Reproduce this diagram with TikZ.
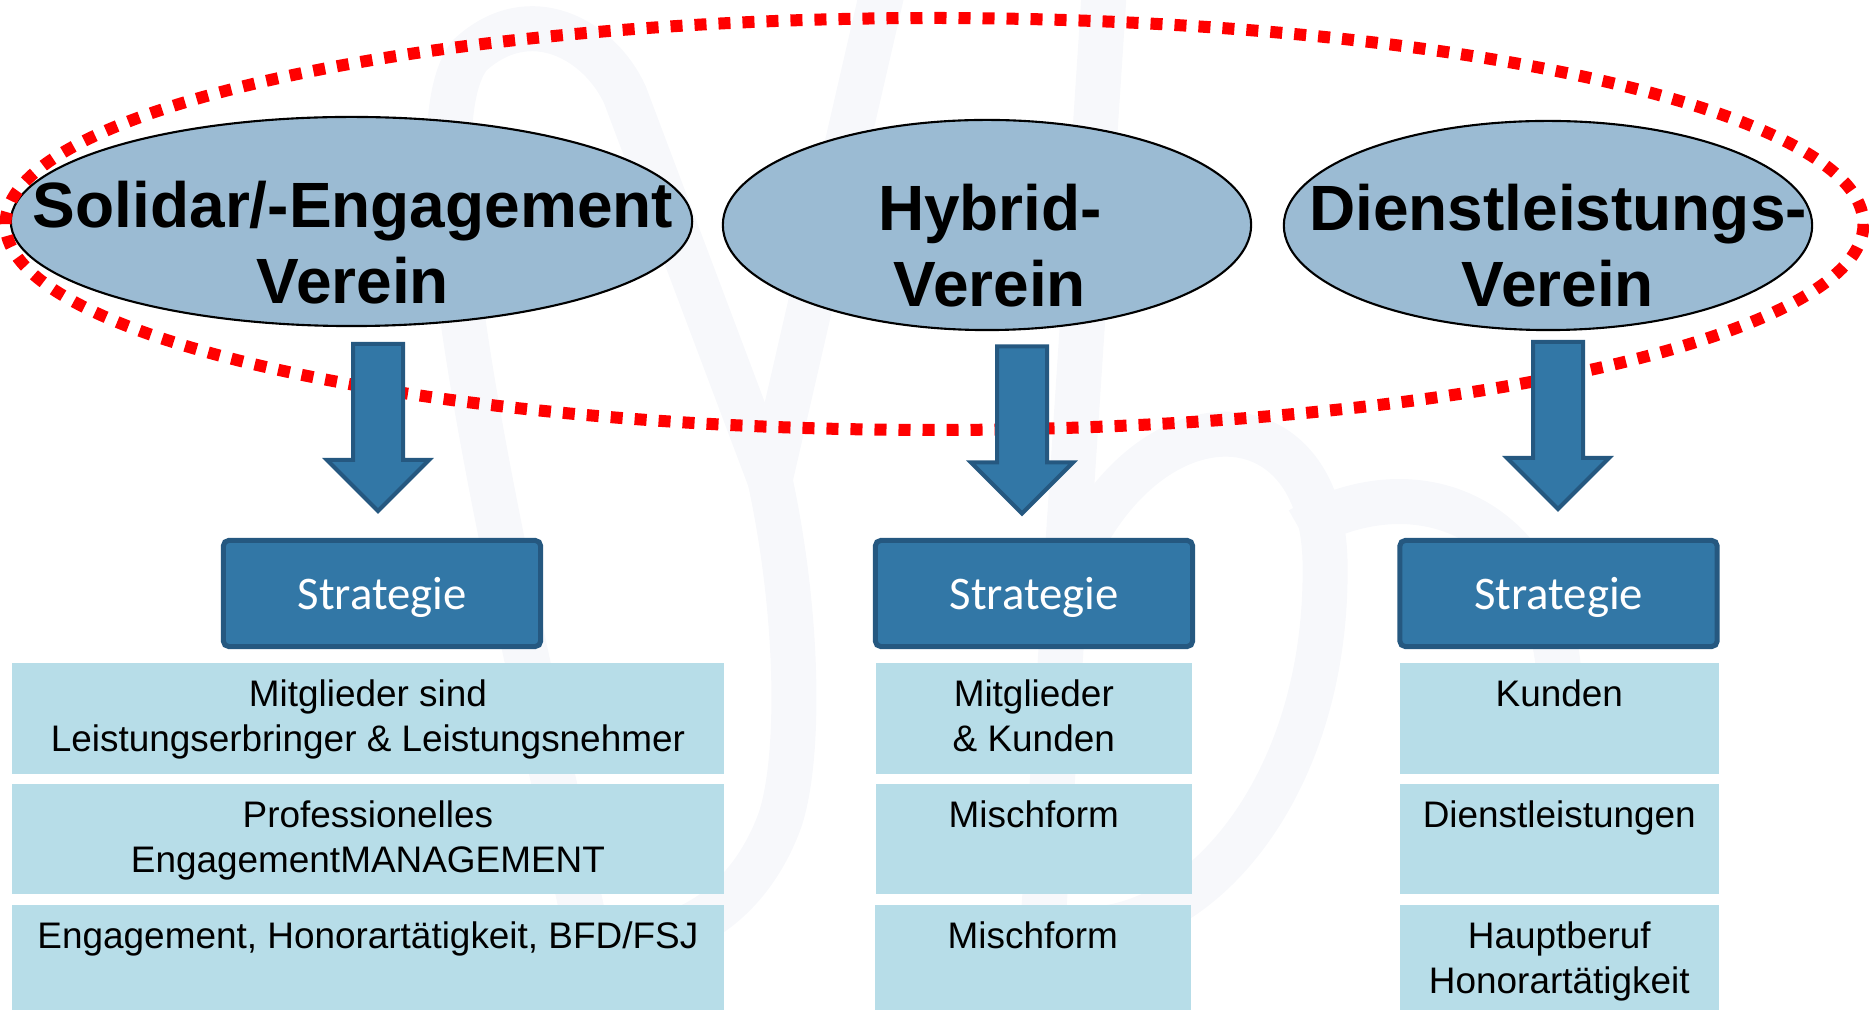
\documentclass[tikz,border=0pt]{standalone}
\usepackage{fontspec}
\setmainfont{Liberation Sans}
\newfontfamily\stratfont{Carlito}
\usepackage{tikz}
\usetikzlibrary{shapes, arrows.meta, positioning, calc}

\definecolor{vereinblue}{RGB}{155, 187, 211}
\definecolor{stratblue}{RGB}{50, 119, 166}
\definecolor{stratborder}{RGB}{37, 88, 128}
\definecolor{itemblue}{RGB}{183, 221, 232}
\definecolor{logogray}{RGB}{247, 248, 251}

\tikzset{
  verein/.style={ellipse, draw=black, line width=0.6pt, fill=vereinblue, inner sep=0pt},
  vereintext/.style={align=center, inner sep=0pt, font=\fontsize{18.2}{21.6}\selectfont\bfseries},
  ringline/.style={draw=red, line width=0.12cm, dash pattern=on 0.12cm off 0.12cm},
  blockarrow/.style={fill=stratblue, draw=stratborder, line width=0.04cm},
  strat/.style={rectangle, draw=stratborder, line width=0.05cm, fill=stratblue, rounded corners=1.5pt,
    minimum width=3.17cm, minimum height=1.06cm, inner sep=0pt, text=white, text depth=0pt,
    font=\stratfont\fontsize{13.3}{16}\selectfont},
  item/.style={rectangle, fill=itemblue, inner sep=0pt, anchor=north west},
  itemtext/.style={align=center, anchor=north, inner sep=0pt, font=\fontsize{10.5}{12.8}\selectfont},
  logo/.style={draw=logogray, line width=0.45cm}
}

\begin{document}
\begin{tikzpicture}[x=0.01cm, y=-0.01cm]
  \useasboundingbox (0,0) rectangle (1869,1010);
  \clip (0,0) rectangle (1869,1010);

  % faint logo in the background
  \draw[logo] (585,925) .. controls (520,620) and (400,140) .. (470,55) .. controls (530,0) and (600,40) .. (625,95) -- (770,480);
  \draw[logo] (885,-20) -- (770,480) .. controls (800,620) and (800,760) .. (780,820) .. controls (740,930) and (640,960) .. (585,925);
  \draw[logo] (1105,-20) -- (1036,1030);
  \draw[logo] (1055,610) .. controls (1120,390) and (1320,380) .. (1325,560) .. controls (1330,800) and (1180,960) .. (1045,925);
  \draw[logo] (1300,530) .. controls (1420,460) and (1560,520) .. (1560,700);

  % the three kinds of Verein
  \node[verein, minimum width=6.81cm, minimum height=2.09cm] (sol) at (351.5,221.5) {};
  \node[verein, minimum width=5.28cm, minimum height=2.10cm] (hyb) at (987,225) {};
  \node[verein, minimum width=5.28cm, minimum height=2.09cm] (dl) at (1548,225.5) {};

  \node[vereintext] (sol-t) at (353,243) {Solidar/-Engagement\\Verein};
  \node[vereintext] (hyb-t) at (990,245.5) {Hybrid-\\Verein};
  \node[vereintext] (dl-t) at (1558,245.5) {Dienstleistungs-\\Verein};

  % dotted ring round all three
  \draw[ringline] (934.5,224) ellipse [x radius=929, y radius=206];

  % arrows down to the strategy
  \coordinate (sol-a) at (378,344);
  \coordinate (hyb-a) at (1022,346.5);
  \coordinate (dl-a) at (1558,342);
  \foreach \a in {sol-a, hyb-a, dl-a}
    \draw[blockarrow] (\a) ++(-25,0) -- ++(50,0) -- ++(0,116) -- ++(26,0) -- ++(-51,51) -- ++(-51,-51) -- ++(26,0) -- cycle;

  % Strategie boxes
  \node[strat] (sol-s) at (382,593.5) {Strategie};
  \node[strat] (hyb-s) at (1034,593.5) {Strategie};
  \node[strat] (dl-s) at (1558.5,593.5) {Strategie};

  % left column
  \node[item, minimum width=7.12cm, minimum height=1.11cm] (sol-1) at (11,662) {};
  \node[item, minimum width=7.12cm, minimum height=1.10cm] (sol-2) at (11,783) {};
  \node[item, minimum width=7.12cm, minimum height=1.06cm] (sol-3) at (11,904) {};
  \node[itemtext] (sol-1-t) at ($(sol-1.north)+(0,17.5)$) {Mitglieder sind\\Leistungserbringer \& Leistungsnehmer};
  \node[itemtext] (sol-2-t) at ($(sol-2.north)+(0,17.5)$) {Professionelles\\EngagementMANAGEMENT};
  \node[itemtext] (sol-3-t) at ($(sol-3.north)+(0,17.5)$) {Engagement, Honorartätigkeit, BFD/FSJ};

  % middle column
  \node[item, minimum width=3.16cm, minimum height=1.11cm] (hyb-1) at (875,662) {};
  \node[item, minimum width=3.16cm, minimum height=1.10cm] (hyb-2) at (875,783) {};
  \node[item, minimum width=3.16cm, minimum height=1.06cm] (hyb-3) at (874,904) {};
  \node[itemtext] (hyb-1-t) at ($(hyb-1.north)+(0,17.5)$) {Mitglieder\\\& Kunden};
  \node[itemtext] (hyb-2-t) at ($(hyb-2.north)+(0,17.5)$) {Mischform};
  \node[itemtext] (hyb-3-t) at ($(hyb-3.north)+(0,17.5)$) {Mischform};

  % right column
  \node[item, minimum width=3.19cm, minimum height=1.11cm] (dl-1) at (1399,662) {};
  \node[item, minimum width=3.19cm, minimum height=1.10cm] (dl-2) at (1399,783) {};
  \node[item, minimum width=3.19cm, minimum height=1.06cm] (dl-3) at (1399,904) {};
  \node[itemtext] (dl-1-t) at ($(dl-1.north)+(0,17.5)$) {Kunden};
  \node[itemtext] (dl-2-t) at ($(dl-2.north)+(0,17.5)$) {Dienstleistungen};
  \node[itemtext] (dl-3-t) at ($(dl-3.north)+(0,17.5)$) {Hauptberuf\\Honorartätigkeit};
\end{tikzpicture}
\end{document}
